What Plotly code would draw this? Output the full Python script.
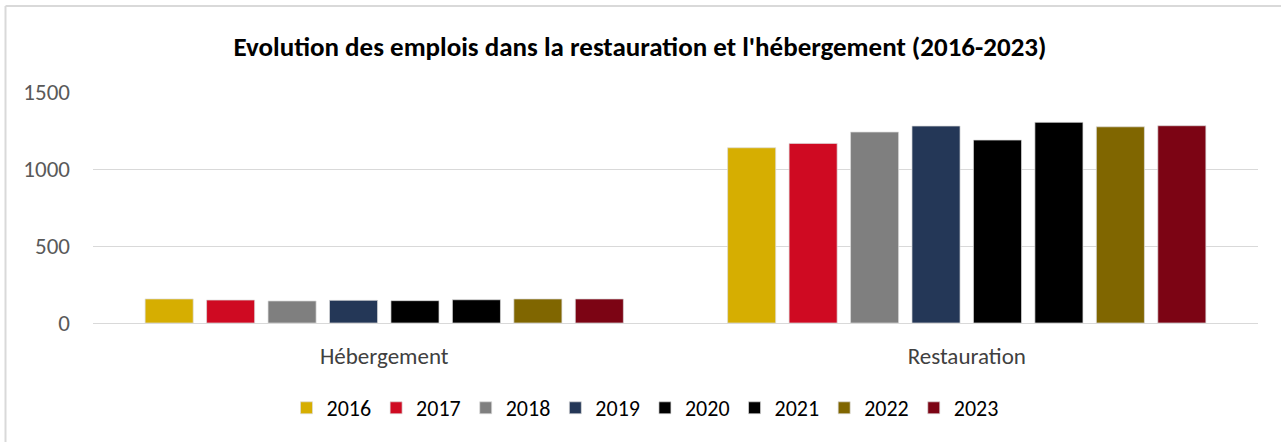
import plotly.graph_objects as go

categories = ["Hébergement", "Restauration"]
years = ["2016", "2017", "2018", "2019", "2020", "2021", "2022", "2023"]
hebergement = [156, 149, 143, 147, 145, 151, 156, 156]
restauration = [1138, 1166, 1240, 1279, 1188, 1303, 1274, 1281]
colors = ["#D6AE01", "#CF0A22", "#7F7F7F", "#243757", "#000000", "#000000", "#806600", "#7C0414"]

W, H = 1281, 442
L, R, T, B = 93, 23, 92, 119
pw, ph = W - L - R, H - T - B

fig = go.Figure()
for i, y in enumerate(years):
    fig.add_trace(go.Bar(
        name=y, x=categories, y=[hebergement[i], restauration[i]],
        marker=dict(color=colors[i], line=dict(color="rgba(220,220,220,0.7)", width=1)),
    ))

font = "Carlito, Calibri, 'Liberation Sans Narrow', 'Open Sans', sans-serif"

def px_x(p):
    return (p - L) / pw

def px_y(p):
    return (H - B - p) / ph

fig.update_layout(
    width=W, height=H,
    margin=dict(l=L, r=R, t=T, b=B),
    paper_bgcolor="white", plot_bgcolor="white",
    barmode="group", bargap=0.156, bargroupgap=0.218,
    font=dict(family=font, color="#595959", size=22),
    title=dict(text="<b>Evolution des emplois dans la restauration et l'hébergement (2016-2023)</b>",
               x=640 / W, xref="container", xanchor="center",
               y=1 - 47 / H, yanchor="middle",
               font=dict(size=27, color="#000000", family=font)),
    showlegend=True,
    legend=dict(orientation="h", x=px_x(645), xanchor="center", y=px_y(408), yanchor="middle",
                font=dict(size=22, color="#000000", family=font),
                itemwidth=30, traceorder="normal", tracegroupgap=0),
    xaxis=dict(showgrid=False, showline=False, ticks="", tickfont=dict(size=23, color="#404040"),
               ticklabelstandoff=17),
    yaxis=dict(range=[0, 1500], tickvals=[0, 500, 1000, 1500], showgrid=True,
               gridcolor="#D9D9D9", gridwidth=1, zeroline=True, zerolinecolor="#D9D9D9",
               zerolinewidth=1, showline=False, ticks="", ticklabelstandoff=22,
               tickfont=dict(size=23, color="#595959")),
    shapes=[
        dict(type="line", xref="paper", yref="paper", x0=px_x(5.5), x1=px_x(W + 5), y0=px_y(6), y1=px_y(6),
             line=dict(color="#D9D9D9", width=2)),
        dict(type="line", xref="paper", yref="paper", x0=px_x(5.5), x1=px_x(5.5), y0=px_y(6), y1=px_y(H + 5),
             line=dict(color="#D9D9D9", width=2)),
    ],
)

fig.write_html("out.html", config={"displayModeBar": False})
with open("out.html", "r", encoding="utf-8") as f:
    html = f.read()
html = html.replace("<body>", '<body style="margin:0;padding:0;overflow:hidden">', 1)
with open("out.html", "w", encoding="utf-8") as f:
    f.write(html)
